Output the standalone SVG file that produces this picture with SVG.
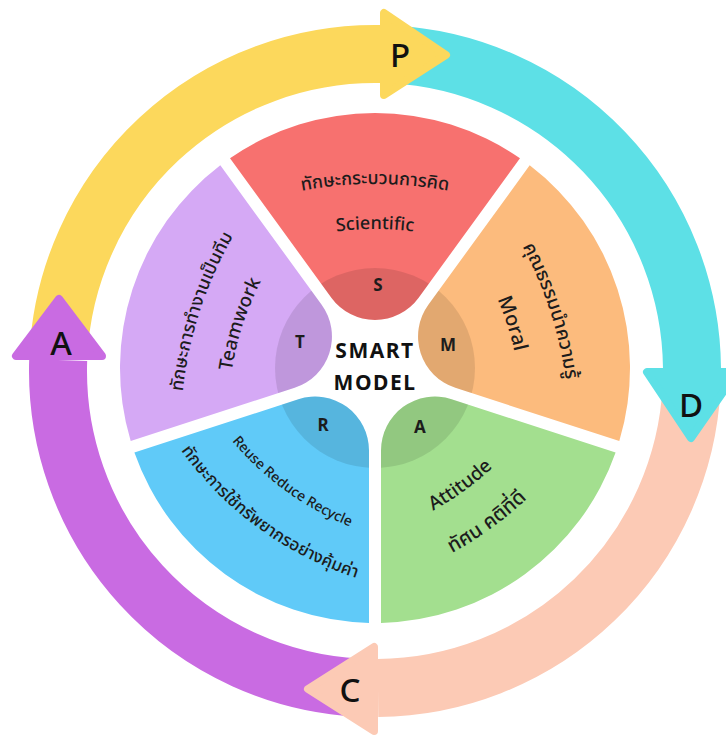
<svg xmlns="http://www.w3.org/2000/svg" width="726" height="735" viewBox="0 0 726 735">
<style>
.band{fill:none;stroke-width:58;stroke-linecap:butt}
.head{stroke-width:8;stroke-linejoin:round}
.rl{font-family:'Noto Sans','Open Sans',sans-serif;font-size:33px;font-weight:500;fill:#111;text-anchor:middle}
.en{font-family:'Noto Sans','Open Sans',sans-serif;font-weight:500;fill:#1c1c1c}
.th{font-family:'Noto Sans Thai','Noto Sans','DejaVu Sans',sans-serif;font-weight:500;fill:#1c1c1c}
.key{font-family:'Noto Sans','Open Sans',sans-serif;font-weight:700;font-size:17px;fill:#1c1c1c;text-anchor:middle}
.title{font-family:'Noto Sans','Open Sans',sans-serif;font-weight:700;font-size:21px;letter-spacing:1.5px;fill:#111;text-anchor:middle}
.dark{fill:#000;fill-opacity:0.1}
</style>
<defs>
<path id="sec" d="M 230.01 158.23 A 255 255 0 0 1 519.99 158.23 L 418.65 297.71 A 53.95 53.95 0 0 1 331.35 297.71 Z"/>
<clipPath id="cS"><use href="#sec"/></clipPath>
<clipPath id="cM"><use href="#sec" transform="rotate(72 375 368)"/></clipPath>
<clipPath id="cA"><use href="#sec" transform="rotate(144 375 368)"/></clipPath>
<clipPath id="cR"><use href="#sec" transform="rotate(216 375 368)"/></clipPath>
<clipPath id="cT"><use href="#sec" transform="rotate(288 375 368)"/></clipPath>
<path id="thTop" d="M 245 205.7 A 400 400 0 0 1 505 205.7"/>
<path id="enTop" d="M 275 246.2 A 300 300 0 0 1 475 246.2"/>
<path id="thBot" d="M 235 536.8 A 350 350 0 0 0 515 536.8"/>
<path id="enBot" d="M 275 502.8 A 300 300 0 0 0 475 502.8"/>
</defs>
<rect width="726" height="735" fill="#fff"/>

<g id="connectors">
<path class="band" stroke="#FCD85C" d="M 58.43 354.41 A 317 317 0 0 1 380.53 54.05"/>
<path class="band" stroke="#5DE0E6" d="M 391.6 54.4 A 317 317 0 0 1 691.99 368.23"/>
<path class="band" stroke="#FCCAB5" d="M 691.57 387.59 A 317 317 0 0 1 377.99 688"/>
<path class="band" stroke="#C96BE2" d="M 358.41 687.57 A 317 317 0 0 1 58.19 359.94"/>
<polygon class="head" fill="#FCD85C" stroke="#FCD85C" points="384,13 384,95 446,55"/>
<polygon class="head" fill="#5DE0E6" stroke="#5DE0E6" points="647,372 737,372 691,438"/>
<polygon class="head" fill="#FCCAB5" stroke="#FCCAB5" points="374,647 374,731 308,689"/>
<polygon class="head" fill="#C96BE2" stroke="#C96BE2" points="16,356 102,356 59,299"/>
<text class="rl" x="400" y="67">P</text>
<text class="rl" x="691" y="417">D</text>
<text class="rl" x="350" y="702">C</text>
<text class="rl" x="61" y="355">A</text>
</g>

<g id="node-S">
<use href="#sec" fill="#F7716F"/>
<circle class="dark" cx="375" cy="368" r="100" clip-path="url(#cS)"/>
<text class="th" font-size="18"><textPath href="#thTop" startOffset="50%" text-anchor="middle">ทักษะกระบวนการคิด</textPath></text>
<text class="en" font-size="18"><textPath href="#enTop" startOffset="50%" text-anchor="middle">Scientific</textPath></text>
<text class="key" x="378" y="291">S</text>
</g>

<g id="node-M">
<use href="#sec" transform="rotate(72 375 368)" fill="#FCBB7D"/>
<circle class="dark" cx="375" cy="368" r="100" clip-path="url(#cM)"/>
<g transform="rotate(72 375 368)">
<text class="th" font-size="19"><textPath href="#thTop" startOffset="50%" text-anchor="middle">คุณธรรมนำความรู้</textPath></text>
<text class="en" font-size="20"><textPath href="#enTop" startOffset="50%" text-anchor="middle">Moral</textPath></text>
</g>
<text class="key" x="448" y="351">M</text>
</g>

<g id="node-A">
<use href="#sec" transform="rotate(144 375 368)" fill="#A3DF8F"/>
<circle class="dark" cx="375" cy="368" r="100" clip-path="url(#cA)"/>
<g transform="rotate(-36 375 368)">
<text class="th" font-size="20"><textPath href="#thBot" startOffset="50%" text-anchor="middle">ทัศน คติที่ดี</textPath></text>
<text class="en" font-size="19"><textPath href="#enBot" startOffset="50%" text-anchor="middle">Attitude</textPath></text>
</g>
<text class="key" x="420" y="433">A</text>
</g>

<g id="node-R">
<use href="#sec" transform="rotate(216 375 368)" fill="#60CAF8"/>
<circle class="dark" cx="375" cy="368" r="100" clip-path="url(#cR)"/>
<g transform="rotate(36 375 368)">
<text class="th" font-size="17"><textPath href="#thBot" startOffset="50%" text-anchor="middle">ทักษะการใช้ทรัพยากรอย่างคุ้มค่า</textPath></text>
<text class="en" font-size="14"><textPath href="#enBot" startOffset="50%" text-anchor="middle">Reuse Reduce Recycle</textPath></text>
</g>
<text class="key" x="323" y="431">R</text>
</g>

<g id="node-T">
<use href="#sec" transform="rotate(288 375 368)" fill="#D5A9F5"/>
<circle class="dark" cx="375" cy="368" r="100" clip-path="url(#cT)"/>
<g transform="rotate(-72 375 368)">
<text class="th" font-size="18"><textPath href="#thTop" startOffset="50%" text-anchor="middle">ทักษะการทำงานเป็นทีม</textPath></text>
<text class="en" font-size="19"><textPath href="#enTop" startOffset="50%" text-anchor="middle">Teamwork</textPath></text>
</g>
<text class="key" x="300" y="348">T</text>
</g>

<g id="node-center">
<text class="title" x="375" y="358">SMART</text>
<text class="title" x="375" y="390">MODEL</text>
</g>
</svg>
